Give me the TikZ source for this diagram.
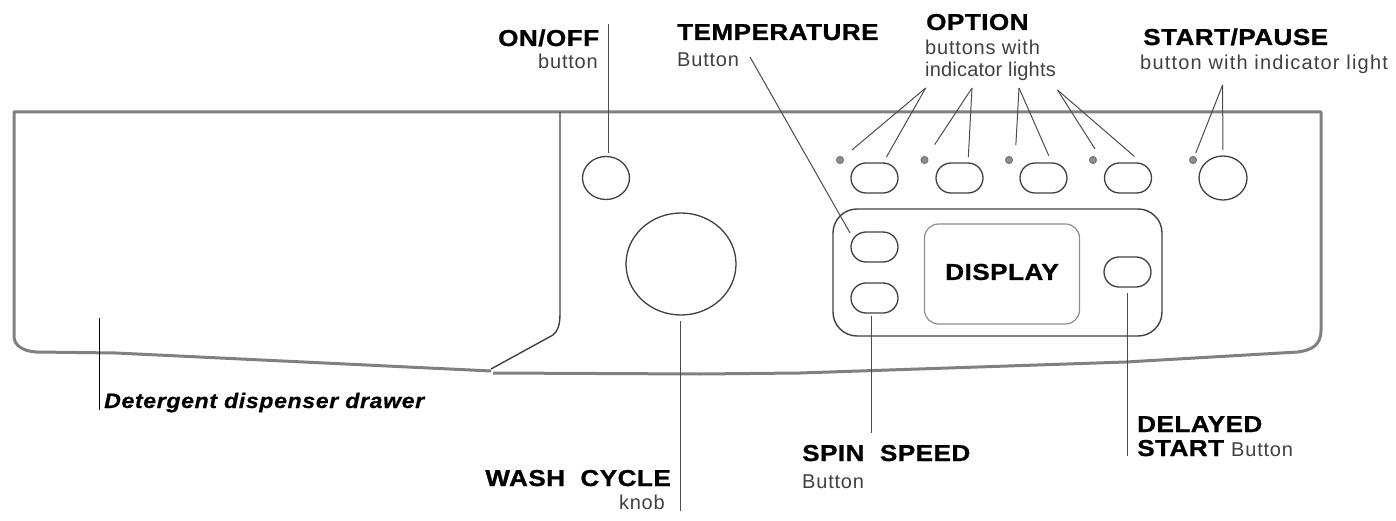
\documentclass[tikz,border=0pt]{standalone}
\usepackage{fontspec}
\setmainfont{Liberation Sans}
\newfontfamily\headfont[FakeStretch=1.135,LetterSpace=2,FakeBold=1]{Liberation Sans Bold}
\newfontfamily\notefont[LetterSpace=4]{Liberation Sans}
\newfontfamily\widefont[LetterSpace=6]{Liberation Sans}
\newfontfamily\tightfont[LetterSpace=1]{Liberation Sans}
\newfontfamily\drawerfont[FakeStretch=1.1,LetterSpace=3,FakeBold=0.6]{Liberation Sans Bold Italic}
\usetikzlibrary{shapes.misc,shapes.geometric}
\tikzset{
	head/.style={anchor=base west, inner sep=0pt, font=\headfont\fontsize{23}{23}\selectfont},
	note/.style={anchor=base west, inner sep=0pt, text=black!75, font=\notefont\fontsize{20}{20}\selectfont},
	shell/.style={draw=black!50, line width=3pt, line join=round},
	btn/.style={draw=black!75, line width=1.3pt, rounded rectangle, minimum width=47pt, minimum height=30pt, inner sep=0pt, outer sep=0pt},
	round btn/.style={draw=black!75, line width=1.3pt, ellipse, inner sep=0pt, outer sep=0pt},
	lamp/.style={draw=black!55, fill=black!45, line width=1pt, circle, minimum size=7pt, inner sep=0pt, outer sep=0pt},
	leader/.style={draw=black!70, line width=1pt},
}
\begin{document}
\begin{tikzpicture}[x=1pt, y=-1pt]
	\useasboundingbox (0,0) rectangle (1396,521);

	%panel outline
	\draw[shell] (491,371) -- (116,353) -- (36,352) .. controls (22,351) and (14,345) .. (14,336) -- (14,112) -- (1321,112) -- (1321,330) .. controls (1321,345) and (1312,350) .. (1298,352) -- (1126,362) -- (800,373) -- (700,374) -- (493,373);
	\draw[draw=black!75, line width=1.4pt] (560,112) -- (560,313) .. controls (560,325) and (558,331) .. (553,335) -- (491,369);

	%knob and round buttons
	\node[round btn, minimum width=47pt, minimum height=43pt] (onoff) at (606,178) {};
	\node[round btn, minimum width=110pt, minimum height=102pt] (knob) at (681,264) {};
	\node[round btn, minimum width=48pt, minimum height=44pt] (startpause) at (1223,178) {};

	%option buttons
	\node[btn] (opt a) at (874.5,178) {};
	\node[btn] (opt b) at (959.5,178) {};
	\node[btn] (opt c) at (1043.5,178) {};
	\node[btn] (opt d) at (1128,178) {};
	\node[lamp] (lamp a) at (840,160) {};
	\node[lamp] (lamp b) at (924.5,160) {};
	\node[lamp] (lamp c) at (1009,160) {};
	\node[lamp] (lamp d) at (1093,160) {};
	\node[lamp] (lamp e) at (1193,160) {};

	%display block
	\node[draw=black!75, line width=1.4pt, rounded corners=24pt, minimum width=329pt, minimum height=127pt, inner sep=0pt] (frame) at (997.5,272.5) {};
	\node[draw=black!45, line width=1.2pt, rounded corners=14pt, minimum width=155pt, minimum height=100pt, inner sep=0pt] (screen) at (1002,274) {};
	\node[inner sep=0pt, font=\headfont\fontsize{23}{23}\selectfont] (display) at (1002,272) {DISPLAY};
	\node[btn] (temp) at (874.5,247) {};
	\node[btn] (spin) at (874.5,298) {};
	\node[btn] (delay) at (1127.5,272) {};

	%labels
	\node[head] (onoff label) at (498,46) {ON/OFF};
	\node[note, anchor=base east] (onoff note) at (598,69) {button};
	\node[head] (temp label) at (677,40) {TEMPERATURE};
	\node[note] (temp note) at (677,67) {Button};
	\node[head] (opt label) at (926,30) {OPTION};
	\node[note] (opt note a) at (925,55) {buttons with};
	\node[note, font=\tightfont\fontsize{20}{20}\selectfont] (opt note b) at (925,77) {indicator lights};
	\node[head] (start label) at (1143,45) {START/PAUSE};
	\node[note, font=\widefont\fontsize{20}{20}\selectfont] (start note) at (1140,70) {button with indicator light};
	\node[head] (spin label) at (802,461) {SPIN\ \ SPEED};
	\node[note] (spin note) at (802,488) {Button};
	\node[head] (delay label) at (1137,432) {DELAYED};
	\node[head] (delay label b) at (1137,456) {START};
	\node[note] (delay note) at (1231,456) {Button};
	\node[head, anchor=base east] (wash label) at (671,486) {WASH\ \ CYCLE};
	\node[note, anchor=base east] (wash note) at (665,509) {knob};
	\node[anchor=base west, inner sep=0pt, font=\drawerfont\fontsize{21}{21}\selectfont] (drawer label) at (104,408) {Detergent dispenser drawer};

	%free ends
	\coordinate (onoff end) at (608.5,24);
	\coordinate (temp end) at (750,57);
	\coordinate (opt end a) at (925.7,88);
	\coordinate (opt end b) at (972,88);
	\coordinate (opt end c) at (1019,88);
	\coordinate (opt end d) at (1057.5,90);
	\coordinate (start end) at (1222.6,85);
	\coordinate (wash end) at (680,511);
	\coordinate (spin end) at (871.6,433);
	\coordinate (delay end) at (1127.6,456);
	\coordinate (drawer top) at (99,318);
	\coordinate (drawer end) at (99,410);

	%leaders
	\draw[leader, shorten >=3pt] (onoff end) -- (onoff.north -| onoff end);
	\draw[leader, shorten >=16pt] (temp end) -- ([xshift=7pt]temp.west);
	\draw[leader, shorten >=12pt] (opt end a) -- (lamp a);
	\draw[leader, shorten >=7pt] (opt end a) -- (opt a.north east);
	\draw[leader, shorten >=15pt] (opt end b) -- (lamp b);
	\draw[leader, shorten >=6pt] (opt end b) -- (opt b.north east);
	\draw[leader, shorten >=15pt] (opt end c) -- ([xshift=6pt]lamp c.center);
	\draw[leader, shorten >=8pt] (opt end c) -- (opt c.north east);
	\draw[leader, shorten >=13pt] (opt end d) -- ([xshift=9pt]lamp d.center);
	\draw[leader, shorten >=10pt] (opt end d) -- ([xshift=14pt]opt d.north);
	\draw[leader, shorten >=4pt] (start end) -- (lamp e);
	\draw[leader, shorten >=6pt] (start end) -- (startpause);
	\draw[leader, shorten >=6pt] (wash end) -- (knob.south -| wash end);
	\draw[leader, shorten >=3pt] (spin end) -- (spin.south -| spin end);
	\draw[leader, shorten >=6pt] (delay end) -- (delay.south -| delay end);
	\draw[draw=black, line width=0.8pt] (drawer top) -- (drawer end);
\end{tikzpicture}
\end{document}
